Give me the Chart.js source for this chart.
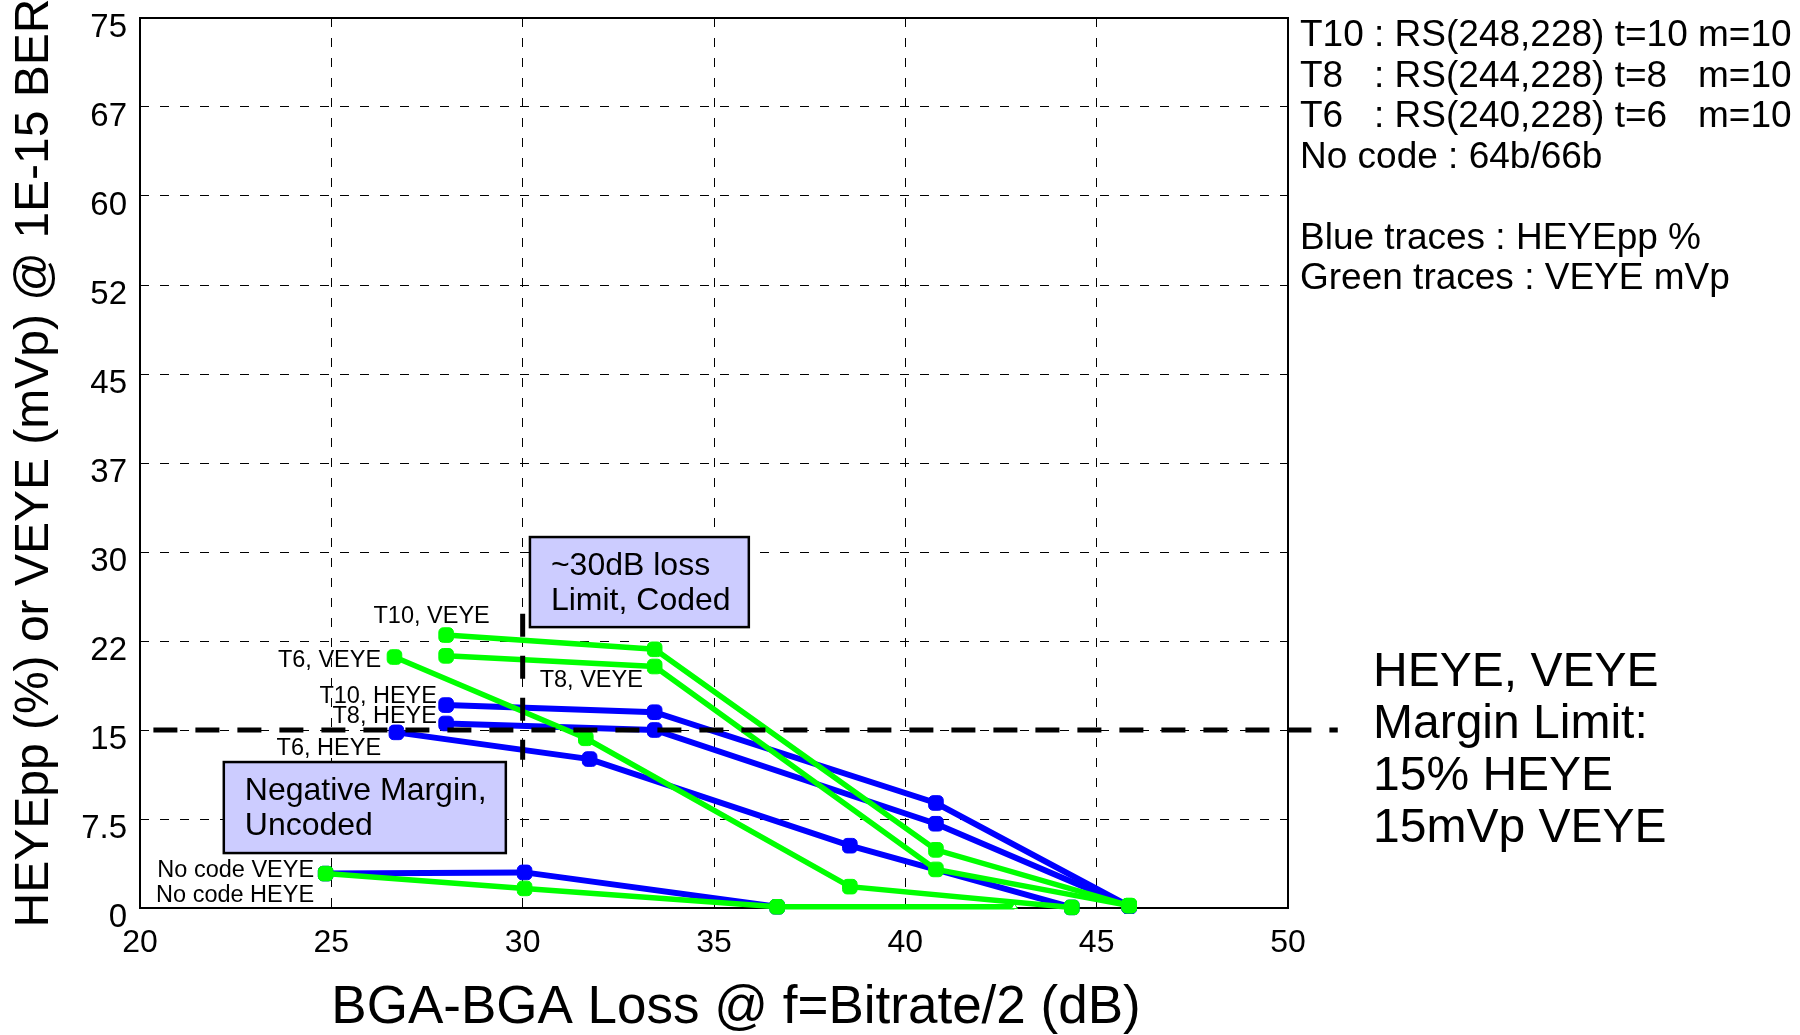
<!DOCTYPE html>
<html>
<head>
<meta charset="utf-8">
<title>BGA-BGA Loss vs HEYE / VEYE</title>
<script src="https://cdn.jsdelivr.net/npm/chart.js@4.4.1/dist/chart.umd.min.js"></script>
<style>
  html, body { margin: 0; padding: 0; background: #fff; }
  #wrap { width: 1800px; height: 1035px; }
</style>
</head>
<body>
<div id="wrap"><canvas id="eyeChart" width="1800" height="1035"></canvas></div>
<script>
// loss in dB (x), HEYEpp % (blue) and VEYE mVp (green)
const lossT10 = [28.0, 33.45, 40.8, 45.85];
const heyeT10 = [17.1, 16.5, 8.85, 0.15];
const veyeT10 = [23.0, 21.8, 4.9, 0.2];

const lossT8 = [28.0, 33.45, 40.8, 45.85];
const heyeT8 = [15.55, 15.0, 7.1, 0.15];
const veyeT8 = [21.25, 20.35, 3.25, 0.2];

const lossT6Heye = [26.7, 31.75, 38.55, 44.35];
const heyeT6 = [14.8, 12.55, 5.25, 0.05];
const lossT6Veye = [26.65, 31.65, 38.55, 44.35];
const veyeT6 = [21.15, 14.3, 1.8, 0.05];

const lossNoCodeHeye = [24.85, 30.05, 36.65];
const heyeNoCode = [2.9, 3.0, 0.1];
const lossNoCodeVeye = [24.85, 30.05, 36.65, 42.85];
const veyeNoCode = [2.9, 1.65, 0.1, 0.1];

// 15% / 15mVp margin limit and the ~30dB loss limit
const marginLineX = [20.35, 51.3];
const marginLineY = [15, 15];
const lossLimitX = [30, 30];
const lossLimitY = [24.8, 12.5];

const yTickLabels = ["0", "7.5", "15", "22", "30", "37", "45", "52", "60", "67", "75"];

const codeNotes = [
  "T10 : RS(248,228) t=10 m=10",
  "T8   : RS(244,228) t=8   m=10",
  "T6   : RS(240,228) t=6   m=10",
  "No code : 64b/66b",
  "",
  "Blue traces : HEYEpp %",
  "Green traces : VEYE mVp"
];
const limitNote = ["HEYE, VEYE", "Margin Limit:", "15% HEYE", "15mVp VEYE"];

document.addEventListener("DOMContentLoaded", () => {
  const FONT = '"Liberation Sans", Arial, Helvetica, sans-serif';
  const BLUE = "#0000ff";
  const GREEN = "#00ff00";
  Chart.defaults.font.family = FONT;
  Chart.defaults.color = "#000";

  // trace labels, anchored in data units (right edge, baseline)
  const traceLabels = [
    { text: "T10, VEYE", x: 29.14, y: 24.0 },
    { text: "T6, VEYE", x: 26.3, y: 20.33 },
    { text: "T8, VEYE", x: 33.14, y: 18.64 },
    { text: "T10, HEYE", x: 27.76, y: 17.27 },
    { text: "T8, HEYE", x: 27.76, y: 15.61 },
    { text: "T6, HEYE", x: 26.3, y: 12.89 },
    { text: "No code VEYE", x: 24.55, y: 2.64 },
    { text: "No code HEYE", x: 24.55, y: 0.53 }
  ];

  const noteBoxes = [
    { lines: ["~30dB loss", "Limit, Coded"], x1: 30.19, x2: 35.91, y1: 31.26, y2: 23.67 },
    { lines: ["Negative Margin,", "Uncoded"], x1: 22.19, x2: 29.56, y1: 12.3, y2: 4.63 }
  ];

  const pts = (xs, ys) => xs.map((x, i) => ({ x, y: ys[i] }));

  function trace(label, xs, ys, color, width, order) {
    return {
      label,
      data: pts(xs, ys),
      showLine: true,
      borderColor: color,
      backgroundColor: color,
      borderWidth: width,
      pointStyle: "rectRounded",
      pointRadius: 8.5,
      pointHoverRadius: 8.5,
      pointBorderWidth: 1,
      tension: 0,
      clip: false,
      order
    };
  }

  function dashed(label, xs, ys, dash) {
    return {
      label,
      data: pts(xs, ys),
      showLine: true,
      borderColor: "#000",
      borderWidth: 5,
      borderDash: dash,
      borderCapStyle: "butt",
      pointRadius: 0,
      clip: false,
      order: 0
    };
  }

  const noCodeVeye = trace("No code VEYE", lossNoCodeVeye, veyeNoCode, GREEN, 5.5, 1);
  noCodeVeye.pointStyle = ["rectRounded", "rectRounded", "rectRounded", "triangle"];
  noCodeVeye.pointRadius = [8.5, 8.5, 8.5, 3.5];
  noCodeVeye.pointBackgroundColor = [GREEN, GREEN, GREEN, "#fff"];

  const overlay = {
    id: "overlay",
    beforeDatasetsDraw(chart) {
      const { ctx, chartArea: a, scales: { x, y } } = chart;
      ctx.save();
      ctx.strokeStyle = "#000";
      ctx.lineWidth = 2;
      ctx.setLineDash([]);
      ctx.strokeRect(a.left, a.top, a.right - a.left, a.bottom - a.top);

      ctx.font = "32px " + FONT;
      ctx.textBaseline = "alphabetic";
      ctx.textAlign = "left";
      noteBoxes.forEach(b => {
        const l = x.getPixelForValue(b.x1), r = x.getPixelForValue(b.x2);
        const t = y.getPixelForValue(b.y1), btm = y.getPixelForValue(b.y2);
        ctx.fillStyle = "#ccccff";
        ctx.fillRect(l, t, r - l, btm - t);
        ctx.lineWidth = 2.5;
        ctx.strokeRect(l, t, r - l, btm - t);
        ctx.fillStyle = "#000";
        b.lines.forEach((line, i) => ctx.fillText(line, l + 21, t + 38 + i * 35));
      });
      ctx.restore();
    },
    afterDatasetsDraw(chart) {
      const { ctx, scales: { x, y } } = chart;
      ctx.save();
      ctx.fillStyle = "#000";
      ctx.font = "23.5px " + FONT;
      ctx.textAlign = "right";
      ctx.textBaseline = "alphabetic";
      traceLabels.forEach(l => ctx.fillText(l.text, x.getPixelForValue(l.x), y.getPixelForValue(l.y)));
      ctx.restore();
    },
    afterDraw(chart) {
      const { ctx, chartArea: a } = chart;
      ctx.save();
      ctx.fillStyle = "#000";
      ctx.textAlign = "left";
      ctx.textBaseline = "alphabetic";
      ctx.font = "37px " + FONT;
      codeNotes.forEach((line, i) => ctx.fillText(line, a.right + 12, 46 + i * 40.5));
      ctx.font = "48px " + FONT;
      limitNote.forEach((line, i) => ctx.fillText(line, a.right + 85, 686 + i * 52));
      // x axis title sits a little right of the plot centre
      ctx.font = "53px " + FONT;
      ctx.textAlign = "center";
      ctx.textBaseline = "middle";
      ctx.fillText("BGA-BGA Loss @ f=Bitrate/2 (dB)", (a.left + a.right) / 2 + 22, 1008);
      ctx.restore();
    }
  };

  const gridStyle = { color: "#000", lineWidth: 1, drawTicks: false };
  const borderStyle = { display: false, dash: [9, 11] };

  new Chart(document.getElementById("eyeChart"), {
    type: "scatter",
    data: {
      datasets: [
        dashed("Margin limit", marginLineX, marginLineY, [24, 18]),
        dashed("~30dB loss limit", lossLimitX, lossLimitY, [23, 19]),
        trace("T10 VEYE", lossT10, veyeT10, GREEN, 5.5, 1),
        trace("T8 VEYE", lossT8, veyeT8, GREEN, 5.5, 1),
        trace("T6 VEYE", lossT6Veye, veyeT6, GREEN, 5.5, 1),
        noCodeVeye,
        trace("T10 HEYE", lossT10, heyeT10, BLUE, 6, 2),
        trace("T8 HEYE", lossT8, heyeT8, BLUE, 6, 2),
        trace("T6 HEYE", lossT6Heye, heyeT6, BLUE, 6, 2),
        trace("No code HEYE", lossNoCodeHeye, heyeNoCode, BLUE, 6, 2)
      ]
    },
    options: {
      responsive: false,
      animation: false,
      devicePixelRatio: 1,
      layout: { padding: { top: 18, right: 512, left: 0, bottom: 0 } },
      plugins: {
        legend: { display: false },
        tooltip: { enabled: false }
      },
      scales: {
        x: {
          type: "linear",
          min: 20,
          max: 50,
          ticks: { stepSize: 5, padding: 16, font: { size: 32 }, color: "#000" },
          grid: gridStyle,
          border: borderStyle,
          afterFit: s => { s.height = 127; }
        },
        y: {
          min: 0,
          max: 75,
          ticks: {
            stepSize: 7.5,
            padding: 13,
            labelOffset: 10,
            font: { size: 33 },
            color: "#000",
            callback: (v, i) => yTickLabels[i]
          },
          grid: gridStyle,
          border: borderStyle,
          title: {
            display: true,
            text: "HEYEpp (%) or VEYE (mVp) @ 1E-15 BER",
            font: { size: 48 },
            color: "#000",
            padding: { top: 6 }
          },
          afterFit: s => { s.width = 140; s.paddingTop = 0; s.paddingBottom = 0; }
        }
      }
    },
    plugins: [overlay]
  });
});
</script>
</body>
</html>
